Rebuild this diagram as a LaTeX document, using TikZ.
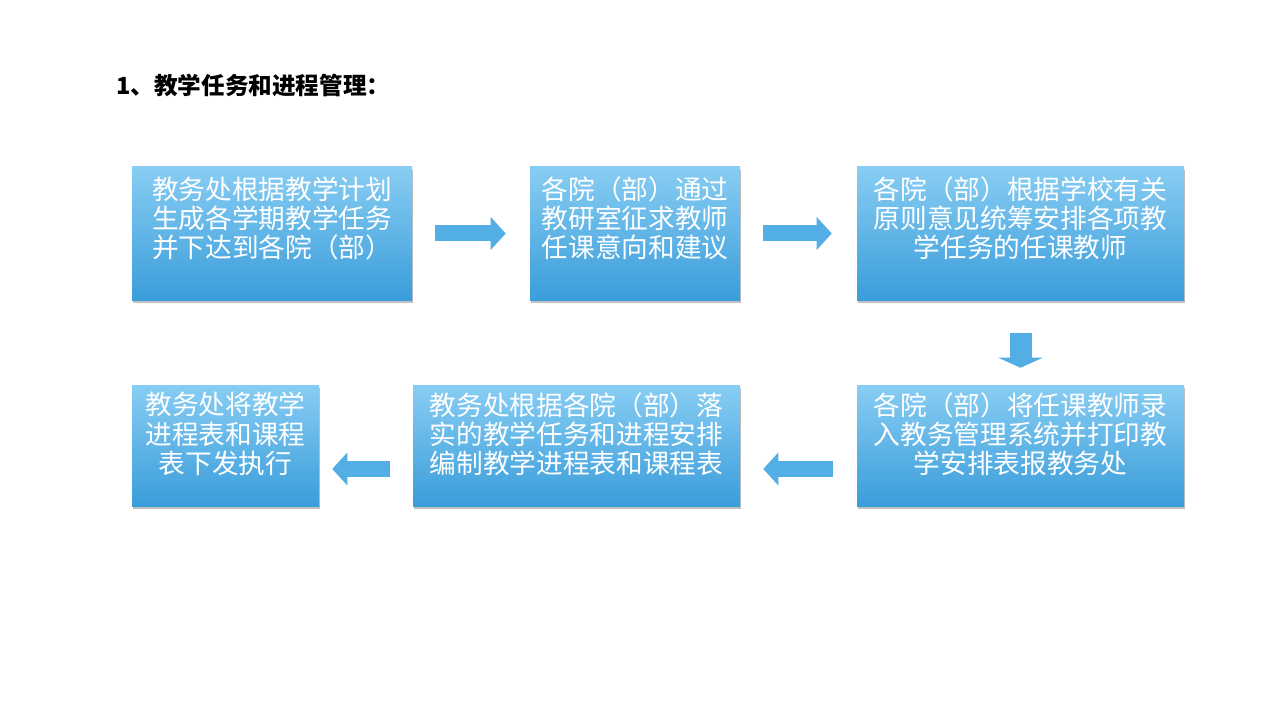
\documentclass[tikz,border=0pt]{standalone}
\usepackage{fontspec}
\newfontfamily\cjk{Noto Sans CJK SC}
\usepackage{xcolor}
\usepackage{tikz}
\usetikzlibrary{positioning, arrows.meta, shadows}

\definecolor{boxtop}{HTML}{88CDF3}
\definecolor{boxbot}{HTML}{3A9DDA}
\definecolor{arrowblue}{HTML}{52AEE4}

\begin{document}
\begin{tikzpicture}[x=0.75pt, y=-0.75pt,
    box/.style={rectangle, inner sep=0pt, top color=boxtop, bottom color=boxbot,
        drop shadow={shadow xshift=1pt, shadow yshift=-2pt, opacity=0.35, fill=black!70}},
    boxtext/.style={inner sep=0pt, align=center, text=white,
        font=\cjk\fontsize{20pt}{21.8pt}\selectfont},
    flow/.style={draw=arrowblue, line width=12pt, -{Triangle[length=11.25pt, width=24pt]}},
    flowdown/.style={draw=arrowblue, line width=16.5pt, -{Triangle[length=7.5pt, width=33pt]}}]
    % nền và khung
    \fill[white] (0,0) rectangle (1280,720);
    \useasboundingbox (0,0) rectangle (1280,720);

    % tiêu đề
    \node[anchor=west, inner sep=0pt, font=\cjk\bfseries\fontsize{17.7pt}{19pt}\selectfont]
        (title) at (116,85) {1、教学任务和进程管理：};

    % hàng trên
    \node[box, minimum width=210pt, minimum height=99.75pt] (b1) at (272,233.5) {};
    \node[box, minimum width=157.5pt, minimum height=99.75pt] (b2) at (635,233.5) {};
    \node[box, minimum width=245.25pt, minimum height=99.75pt] (b3) at (1020.5,233.5) {};
    \node[boxtext, below=7.3pt of b1.north] (t1) {教务处根据教学计划\\生成各学期教学任务\\并下达到各院（部）};
    \node[boxtext, below=7.3pt of b2.north] (t2) {各院（部）通过\\教研室征求教师\\任课意向和建议};
    \node[boxtext, below=7.3pt of b3.north] (t3) {各院（部）根据学校有关\\原则意见统筹安排各项教\\学任务的任课教师};

    % hàng dưới
    \node[box, minimum width=245.25pt, minimum height=90.75pt] (b4) at (1020.5,445.5) {};
    \node[box, minimum width=245.25pt, minimum height=90.75pt] (b5) at (576.5,445.5) {};
    \node[box, minimum width=140.25pt, minimum height=90.75pt] (b6) at (225.5,445.5) {};
    \node[boxtext, below=5.5pt of b4.north] (t4) {各院（部）将任课教师录\\入教务管理系统并打印教\\学安排表报教务处};
    \node[boxtext, below=5.5pt of b5.north] (t5) {教务处根据各院（部）落\\实的教学任务和进程安排\\编制教学进程表和课程表};
    \node[boxtext, below=5.5pt of b6.north] (t6) {教务处将教学\\进程表和课程\\表下发执行};

    % mũi tên
    \draw[flow, shorten <=17.25pt, shorten >=18pt] (b1) -- (b2);
    \draw[flow, shorten <=17.25pt, shorten >=18.75pt] (b2) -- (b3);
    \draw[flowdown, shorten <=24.75pt, shorten >=12.75pt] (b3) -- (b4);
    \draw[flow, shorten <=18pt, shorten >=17.25pt] ([yshift=-17.6pt]b4.west) -- ([yshift=-17.6pt]b5.east);
    \draw[flow, shorten <=17.25pt, shorten >=9.75pt] ([yshift=-17.6pt]b5.west) -- ([yshift=-17.6pt]b6.east);
\end{tikzpicture}
\end{document}
